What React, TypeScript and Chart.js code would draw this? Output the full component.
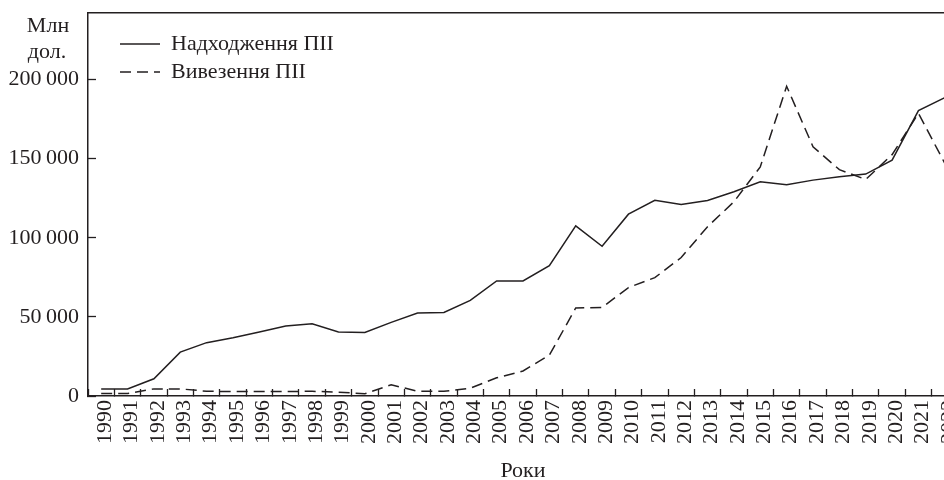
import React, { useEffect, useRef } from 'react';
import { Chart, registerables } from 'chart.js';

Chart.register(...registerables);

const years = ['1990','1991','1992','1993','1994','1995','1996','1997','1998','1999','2000','2001','2002','2003','2004','2005','2006','2007','2008','2009','2010','2011','2012','2013','2014','2015','2016','2017','2018','2019','2020','2021','2022'];
const inflow = [4500, 4400, 10900, 27700, 33700, 36800, 40400, 44200, 45700, 40400, 40200, 46500, 52400, 52800, 60400, 72700, 72700, 82400, 107500, 94600, 114900, 123700, 121000, 123500, 129100, 135300, 133500, 136400, 138500, 140200, 149000, 180300, 188500];
const outflow = [1600, 1600, 4500, 4500, 3000, 2800, 2800, 2800, 3000, 2400, 1400, 7100, 3000, 3000, 4900, 11500, 15800, 25800, 55600, 56000, 68500, 74800, 87500, 107000, 122700, 144800, 195700, 157500, 143000, 136800, 152500, 178600, 147000];
const seriesNames = ['Надходження ПІІ', 'Вивезення ПІІ'];
const yUnitLines = ['Млн', 'дол.'];
const xTitle = 'Роки';
const yTickValues = [0, 50000, 100000, 150000, 200000];
const yMax = 242000;

const INK = '#231f20';
const FONT = "'Liberation Serif', 'DejaVu Serif', serif";

const fmt = (v: number) => String(v).replace(/\B(?=(\d{3})+(?!\d))/g, '\u2009');

const legendShift = {
  id: 'legendShift',
  afterLayout(chart: any) {
    const lg = chart.legend;
    if (!lg) return;
    const ca = chart.chartArea;
    const nl = ca.left + 26;
    const nt = ca.top + 14;
    const w = lg.width;
    lg.left = nl; lg.right = nl + w;
    lg.top = nt; lg.bottom = ca.bottom;
  },
};

const unitLabel = {
  id: 'unitLabel',
  afterDraw(chart: any) {
    const ctx = chart.ctx;
    const ca = chart.chartArea;
    ctx.save();
    ctx.fillStyle = INK;
    ctx.font = `22px ${FONT}`;
    ctx.textAlign = 'center';
    ctx.textBaseline = 'alphabetic';
    ctx.fillText(yUnitLines[0], ca.left - 40, ca.top + 19);
    ctx.fillText(yUnitLines[1], ca.left - 41, ca.top + 45);
    ctx.restore();
  },
};

export default function App() {
  const ref = useRef<HTMLCanvasElement | null>(null);
  useEffect(() => {
    if (!ref.current) return;
    const defaultLabels = (Chart as any).defaults.plugins.legend.labels.generateLabels;
    const chart = new Chart(ref.current, {
      type: 'line',
      data: {
        labels: years,
        datasets: [
          {
            label: seriesNames[0],
            data: inflow,
            borderColor: INK,
            backgroundColor: INK,
            borderWidth: 1.5,
            pointRadius: 0,
            tension: 0,
            xAxisID: 'x',
          },
          {
            label: seriesNames[1],
            data: outflow,
            borderColor: INK,
            backgroundColor: INK,
            borderWidth: 1.5,
            borderDash: [11, 6],
            pointRadius: 0,
            tension: 0,
            xAxisID: 'x',
          },
        ],
      },
      options: {
        responsive: false,
        animation: false,
        devicePixelRatio: 1,
        layout: { padding: { left: 0, top: 13, right: 22, bottom: 0 } },
        plugins: {
          tooltip: { enabled: false },
          title: { display: false },
          legend: {
            display: true,
            position: 'chartArea',
            align: 'start',
            labels: {
              usePointStyle: true,
              pointStyle: 'line',
              pointStyleWidth: 40,
              boxWidth: 40,
              padding: 6,
              color: INK,
              font: { family: FONT, size: 22 },
              generateLabels(chart: any) {
                const items = defaultLabels(chart);
                return items.map((it: any) => {
                  const ds = chart.data.datasets[it.datasetIndex];
                  return {
                    ...it,
                    lineDash: ds.borderDash || [],
                    lineWidth: ds.borderWidth,
                    strokeStyle: ds.borderColor,
                    fillStyle: ds.borderColor,
                    pointStyle: 'line',
                  };
                });
              },
            },
          },
        },
        scales: {
          x: {
            type: 'category',
            position: 'bottom',
            offset: true,
            grid: {
              offset: true,
              drawOnChartArea: false,
              drawTicks: true,
              tickLength: -7,
              tickColor: INK,
              tickWidth: 1.3,
            },
            border: { display: true, color: INK, width: 1.5 },
            ticks: {
              autoSkip: false,
              maxRotation: 90,
              minRotation: 90,
              padding: 11,
              labelOffset: 4,
              color: INK,
              font: { family: FONT, size: 22 },
            },
            title: {
              display: true,
              text: xTitle,
              color: INK,
              padding: { top: 0, bottom: -2 },
              font: { family: FONT, size: 22, lineHeight: 1 },
            },
            afterFit(scale: any) {
              scale.height = 84;
              scale.paddingLeft = 0;
              scale.paddingRight = 0;
            },
          },
          x2: {
            type: 'category',
            position: 'top',
            grid: { display: true, drawOnChartArea: false, drawTicks: false },
            border: { display: true, color: INK, width: 1.5 },
            ticks: { display: false },
            afterFit(scale: any) {
              scale.height = 0;
              scale.paddingLeft = 0;
              scale.paddingRight = 0;
            },
          },
          y: {
            type: 'linear',
            position: 'left',
            min: 0,
            max: yMax,
            grid: {
              drawOnChartArea: false,
              drawTicks: true,
              tickLength: -8,
              tickColor: INK,
              tickWidth: 1.3,
            },
            border: { display: true, color: INK, width: 1.5 },
            ticks: {
              autoSkip: false,
              padding: 17,
              color: INK,
              font: { family: FONT, size: 22 },
              callback: (v: any) => fmt(Number(v)),
            },
            afterBuildTicks(scale: any) {
              scale.ticks = yTickValues.map((v) => ({ value: v }));
            },
            afterFit(scale: any) {
              scale.width = 88;
              scale.paddingTop = 0;
              scale.paddingBottom = 0;
            },
          },
        },
      } as any,
      plugins: [legendShift, unitLabel],
    });
    return () => chart.destroy();
  }, []);

  return (
    <div style={{ position: 'fixed', left: 0, top: 0, width: 944, height: 480, overflow: 'hidden', background: '#fff' }}>
      <canvas ref={ref} width={980} height={480} style={{ display: 'block', width: 980, height: 480 }} />
    </div>
  );
}
